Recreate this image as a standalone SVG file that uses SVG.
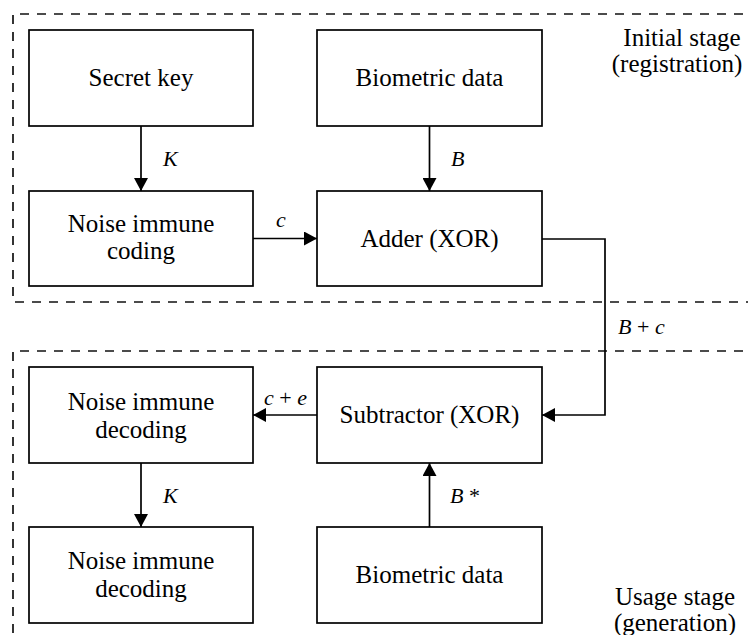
<svg xmlns="http://www.w3.org/2000/svg" width="748" height="635" viewBox="0 0 748 635">
<style>
.box{fill:#fff;stroke:#000;stroke-width:1.7}
.t{font-size:25px;fill:#000;text-anchor:middle}
.lbl{font-size:22px;font-style:italic;fill:#000}
.up{font-style:normal}
.stage{fill:none;stroke:#111;stroke-width:1.7;stroke-dasharray:9 8}
.wire{fill:none;stroke:#000;stroke-width:1.7}
</style>
<defs>
<marker id="ah" markerWidth="14" markerHeight="14" refX="13" refY="7" orient="auto" markerUnits="userSpaceOnUse">
<path d="M0,0 L13,7 L0,14 Z" fill="#000"/>
</marker>
</defs>
<rect width="748" height="635" fill="#fff"/>
<g id="stages">
<path class="stage" d="M760,14 H13 V302 H760"/>
<path class="stage" d="M760,351 H13 V650"/>
</g>
<g font-family="'Liberation Serif', 'Times New Roman', serif">
<g id="n-secret"><rect class="box" x="29" y="30" width="224" height="96"/><text class="t" x="141" y="86">Secret key</text></g>
<g id="n-bio1"><rect class="box" x="317" y="30" width="225" height="96"/><text class="t" x="429.5" y="86">Biometric data</text></g>
<g id="n-coding"><rect class="box" x="29" y="191" width="224" height="95"/><text class="t" x="141" y="232">Noise immune</text><text class="t" x="141" y="259">coding</text></g>
<g id="n-adder"><rect class="box" x="317" y="191" width="225" height="95"/><text class="t" x="429.5" y="247">Adder (XOR)</text></g>
<g id="n-decoding1"><rect class="box" x="29" y="367" width="224" height="96"/><text class="t" x="141" y="410">Noise immune</text><text class="t" x="141" y="438">decoding</text></g>
<g id="n-sub"><rect class="box" x="317" y="367" width="225" height="96"/><text class="t" x="429.5" y="423">Subtractor (XOR)</text></g>
<g id="n-decoding2"><rect class="box" x="29" y="527" width="224" height="96"/><text class="t" x="141" y="569">Noise immune</text><text class="t" x="141" y="597">decoding</text></g>
<g id="n-bio2"><rect class="box" x="317" y="527" width="225" height="96"/><text class="t" x="429.5" y="583">Biometric data</text></g>
<g id="connectors">
<path class="wire" d="M141,126 V191" marker-end="url(#ah)"/>
<path class="wire" d="M429.5,126 V191" marker-end="url(#ah)"/>
<path class="wire" d="M253,238.5 H317" marker-end="url(#ah)"/>
<path class="wire" d="M542,239 H605 V415 H542" marker-end="url(#ah)"/>
<path class="wire" d="M317,415 H253" marker-end="url(#ah)"/>
<path class="wire" d="M141,463 V527" marker-end="url(#ah)"/>
<path class="wire" d="M429.5,527 V463" marker-end="url(#ah)"/>
</g>
<g id="labels">
<text class="lbl" x="163" y="166">K</text>
<text class="lbl" x="451" y="166">B</text>
<text class="lbl" x="276" y="227">c</text>
<text class="lbl" x="618" y="334">B <tspan class="up">+</tspan> c</text>
<text class="lbl" x="264" y="405">c <tspan class="up">+</tspan> e</text>
<text class="lbl" x="163" y="503">K</text>
<text class="lbl" x="450" y="503">B <tspan class="up">*</tspan></text>
<text class="t" x="682" y="46">Initial stage</text>
<text class="t" x="677" y="72">(registration)</text>
<text class="t" x="675" y="605">Usage stage</text>
<text class="t" x="675" y="631">(generation)</text>
</g>
</g>
</svg>
